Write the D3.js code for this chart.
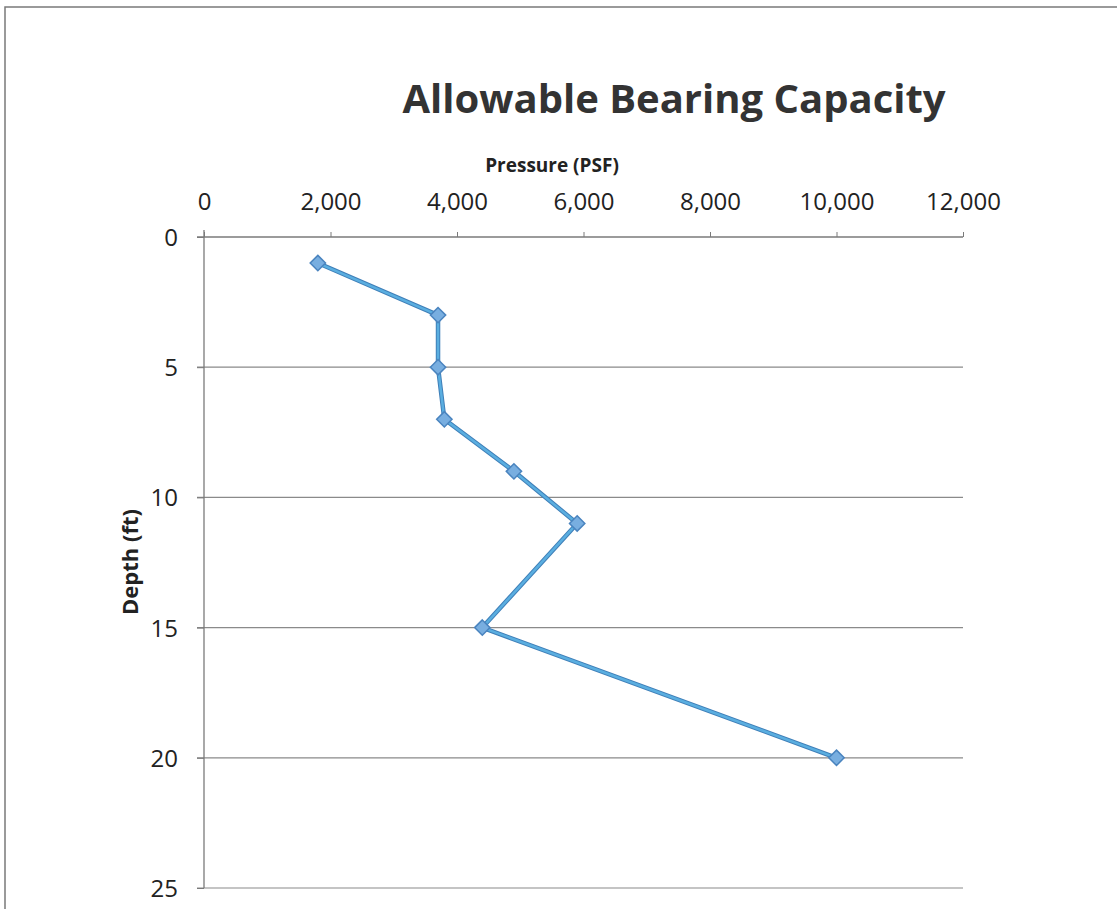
<!DOCTYPE html>
<html><head><meta charset="utf-8">
<script src="https://cdn.jsdelivr.net/npm/d3@7"></script>
<style>body{margin:0;background:#fff}svg{display:block}</style>
</head><body>
<script>
const pressure = [1800, 3700, 3700, 3800, 4900, 5900, 4400, 10000];
const depth = [1, 3, 5, 7, 9, 11, 15, 20];
const xTicks = [0, 2000, 4000, 6000, 8000, 10000, 12000];
const yTicks = [0, 5, 10, 15, 20, 25];
const title = "Allowable Bearing Capacity";
const xTitle = "Pressure (PSF)";
const yTitle = "Depth (ft)";

const W = 1117, H = 909;
const svg = d3.select("body").append("svg").attr("width", W).attr("height", H);
const font = "'Open Sans', 'Noto Sans', sans-serif";

// outer border
svg.append("rect").attr("x", 5).attr("y", 7).attr("width", W).attr("height", H)
  .attr("fill", "none").attr("stroke", "#7a7a7a").attr("stroke-width", 1.5);

const x = d3.scaleLinear().domain([0, 12000]).range([204, 963]);
const y = d3.scaleLinear().domain([0, 25]).range([237, 888]);
const fmt = d3.format(",");

// horizontal gridlines
svg.append("g").selectAll("line").data(yTicks.slice(1)).join("line")
  .attr("x1", 197).attr("x2", x(12000))
  .attr("y1", d => y(d)).attr("y2", d => y(d))
  .attr("stroke", "#8a8a8a").attr("stroke-width", 1.2);

// top axis
const xAxis = d3.axisTop(x).tickValues(xTicks).tickFormat(fmt).tickSize(5).tickPadding(22);
const gx = svg.append("g").attr("transform", `translate(0,${y(0)})`).call(xAxis);
gx.select(".domain").attr("stroke", "#7a7a7a").attr("stroke-width", 1.3)
  .attr("d", `M197,0H${x(12000)}`);
gx.selectAll(".tick line").attr("stroke", "#7a7a7a");
gx.selectAll(".tick text").attr("font-family", font).attr("font-size", 24).attr("fill", "#222")
  .attr("dy", 0).attr("y", -27);

// left axis
const yAxis = d3.axisLeft(y).tickValues(yTicks).tickSize(7).tickPadding(19);
const gy = svg.append("g").attr("transform", `translate(${x(0)},0)`).call(yAxis);
gy.select(".domain").attr("stroke", "#7a7a7a").attr("stroke-width", 1.3)
  .attr("d", `M0,${y(0) - 7}V${y(25)}`);
gy.selectAll(".tick line").attr("stroke", "#7a7a7a");
gy.selectAll(".tick text").attr("font-family", font).attr("font-size", 24).attr("fill", "#222")
  .attr("dy", "0.35em").attr("x", -26);

// title
svg.append("text").attr("x", 674).attr("y", 113).attr("text-anchor", "middle")
  .attr("font-family", font).attr("font-weight", "bold").attr("font-size", 40)
  .attr("fill", "#333").text(title);

svg.append("text").attr("x", 552).attr("y", 172).attr("text-anchor", "middle")
  .attr("font-family", font).attr("font-weight", "bold").attr("font-size", 19)
  .attr("fill", "#222").text(xTitle);

svg.append("text").attr("transform", `translate(138,562) rotate(-90)`).attr("text-anchor", "middle")
  .attr("font-family", font).attr("font-weight", "bold").attr("font-size", 22)
  .attr("fill", "#222").text(yTitle);

// data line
const pts = pressure.map((p, i) => [p, depth[i]]);
svg.append("path").datum(pts)
  .attr("d", d3.line().x(d => x(d[0])).y(d => y(d[1])))
  .attr("fill", "none").attr("stroke", "#3f7fb8").attr("stroke-width", 4.5)
  .attr("stroke-linejoin", "round");
svg.append("path").datum(pts)
  .attr("d", d3.line().x(d => x(d[0])).y(d => y(d[1])))
  .attr("fill", "none").attr("stroke", "#5aaee0").attr("stroke-width", 2.5)
  .attr("stroke-linejoin", "round");

// markers
svg.append("g").selectAll("path").data(pts).join("path")
  .attr("transform", d => `translate(${x(d[0])},${y(d[1])})`)
  .attr("d", d3.symbol().type(d3.symbolDiamond2).size(150))
  .attr("fill", "#78aee0").attr("stroke", "#4a84bf").attr("stroke-width", 1.5);
</script>
</body></html>
